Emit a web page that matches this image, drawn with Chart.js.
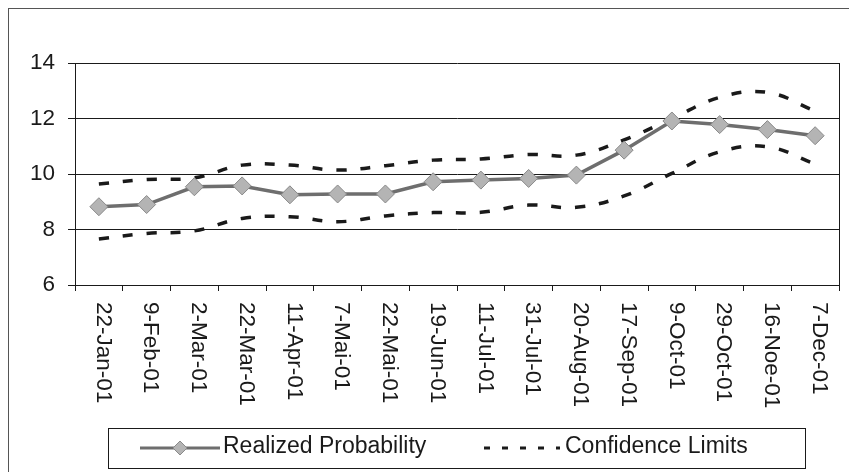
<!DOCTYPE html>
<html>
<head>
<meta charset="utf-8">
<script src="https://cdn.jsdelivr.net/npm/chart.js@4"></script>
<style>
  body { margin: 0; background: #fff; }
  canvas { display: block; }
</style>
</head>
<body>
<canvas id="chart" width="849" height="472"></canvas>
<script>
const labels = ['22-Jan-01', '9-Feb-01', '2-Mar-01', '22-Mar-01', '11-Apr-01', '7-Mai-01', '22-Mai-01', '19-Jun-01',
  '11-Jul-01', '31-Jul-01', '20-Aug-01', '17-Sep-01', '9-Oct-01', '29-Oct-01', '16-Noe-01', '7-Dec-01'];
const realized = [8.82, 8.9, 9.54, 9.57, 9.25, 9.28, 9.28, 9.72, 9.78, 9.84, 9.96, 10.86, 11.91, 11.78, 11.6, 11.38];
const upper = [9.64, 9.8, 9.86, 10.32, 10.32, 10.14, 10.3, 10.5, 10.54, 10.7, 10.68, 11.23, 12.0, 12.76, 12.94, 12.27];
const lower = [7.66, 7.86, 7.95, 8.4, 8.46, 8.28, 8.49, 8.61, 8.62, 8.88, 8.8, 9.21, 10.02, 10.8, 10.98, 10.36];
const legendNames = ['Realized Probability', 'Confidence Limits'];

const FONT = '"Liberation Sans", Arial, sans-serif';
const INK = '#1a1a1a';
const LINE_GREY = '#6e6e6e';
const DIAMOND = '#b4b4b4';
const DIAMOND_EDGE = '#8a8a8a';

// frame, rotated tick labels and boxed legend (Excel style)
const excelBits = {
  id: 'excelBits',
  beforeDraw(chart) {
    const ctx = chart.ctx;
    ctx.save();
    ctx.fillStyle = '#fff';
    ctx.fillRect(0, 0, chart.width, chart.height);
    ctx.restore();
  },
  afterDraw(chart) {
    const { ctx, chartArea: a } = chart;
    const x = chart.scales.x;
    ctx.save();

    // outer frame
    ctx.strokeStyle = '#555';
    ctx.lineWidth = 1;
    ctx.strokeRect(8.5, 8.5, 845, 475);

    // right edge of plot area
    ctx.strokeStyle = INK;
    ctx.beginPath();
    ctx.moveTo(Math.round(a.right) + 0.5, a.top);
    ctx.lineTo(Math.round(a.right) + 0.5, a.bottom);
    ctx.stroke();

    // x labels, rotated clockwise
    ctx.fillStyle = INK;
    ctx.font = '22.5px ' + FONT;
    ctx.textAlign = 'left';
    ctx.textBaseline = 'middle';
    labels.forEach((lab, i) => {
      ctx.save();
      ctx.translate(x.getPixelForValue(i) + 4, a.bottom + 17);
      ctx.rotate(Math.PI / 2);
      ctx.fillText(lab, 0, 0);
      ctx.restore();
    });

    // legend box
    const lx = 108, ly = 428, lw = 697, lh = 40, cy = ly + lh / 2;
    ctx.strokeStyle = INK;
    ctx.strokeRect(lx + 0.5, ly + 0.5, lw, lh);

    ctx.strokeStyle = LINE_GREY;
    ctx.lineWidth = 3;
    ctx.beginPath();
    ctx.moveTo(140, cy);
    ctx.lineTo(220, cy);
    ctx.stroke();
    ctx.beginPath();
    ctx.moveTo(180, cy - 7);
    ctx.lineTo(187, cy);
    ctx.lineTo(180, cy + 7);
    ctx.lineTo(173, cy);
    ctx.closePath();
    ctx.fillStyle = DIAMOND;
    ctx.fill();
    ctx.lineWidth = 1;
    ctx.strokeStyle = DIAMOND_EDGE;
    ctx.stroke();

    ctx.strokeStyle = INK;
    ctx.lineWidth = 3;
    ctx.setLineDash([6, 12]);
    ctx.beginPath();
    ctx.moveTo(484, cy);
    ctx.lineTo(560, cy);
    ctx.stroke();
    ctx.setLineDash([]);

    ctx.fillStyle = INK;
    ctx.font = '23px ' + FONT;
    ctx.textBaseline = 'middle';
    ctx.fillText(legendNames[0], 223, cy - 1);
    ctx.fillText(legendNames[1], 565, cy - 1);

    ctx.restore();
  }
};

new Chart(document.getElementById('chart'), {
  type: 'line',
  data: {
    labels,
    datasets: [
      {
        label: legendNames[0],
        data: realized,
        borderColor: LINE_GREY,
        borderWidth: 3.5,
        pointStyle: 'rectRot',
        pointRadius: 9,
        pointBackgroundColor: DIAMOND,
        pointBorderColor: DIAMOND_EDGE,
        pointBorderWidth: 1,
        tension: 0,
      },
      {
        label: legendNames[1],
        data: upper,
        borderColor: INK,
        borderWidth: 3.5,
        borderDash: [10, 14],
        pointRadius: 0,
        tension: 0.4,
      },
      {
        label: legendNames[1],
        data: lower,
        borderColor: INK,
        borderWidth: 3.5,
        borderDash: [10, 14],
        pointRadius: 0,
        tension: 0.4,
      },
    ],
  },
  options: {
    responsive: false,
    animation: false,
    layout: { padding: { top: 63, right: 8, bottom: 60, left: 0 } },
    plugins: { legend: { display: false }, tooltip: { enabled: false } },
    scales: {
      x: {
        offset: true,
        grid: { offset: true, drawOnChartArea: false, tickLength: 6, color: INK },
        border: { color: INK, width: 1 },
        ticks: { display: false },
        afterFit: (s) => { s.height = 127; },
      },
      y: {
        min: 6,
        max: 14,
        grid: { color: INK, lineWidth: 1, tickLength: 7 },
        border: { color: INK, width: 1 },
        ticks: { stepSize: 2, padding: 13, color: INK, font: { size: 22.5, family: FONT } },
        afterFit: (s) => { s.width = 75; },
      },
    },
  },
  plugins: [excelBits],
});
</script>
</body>
</html>
